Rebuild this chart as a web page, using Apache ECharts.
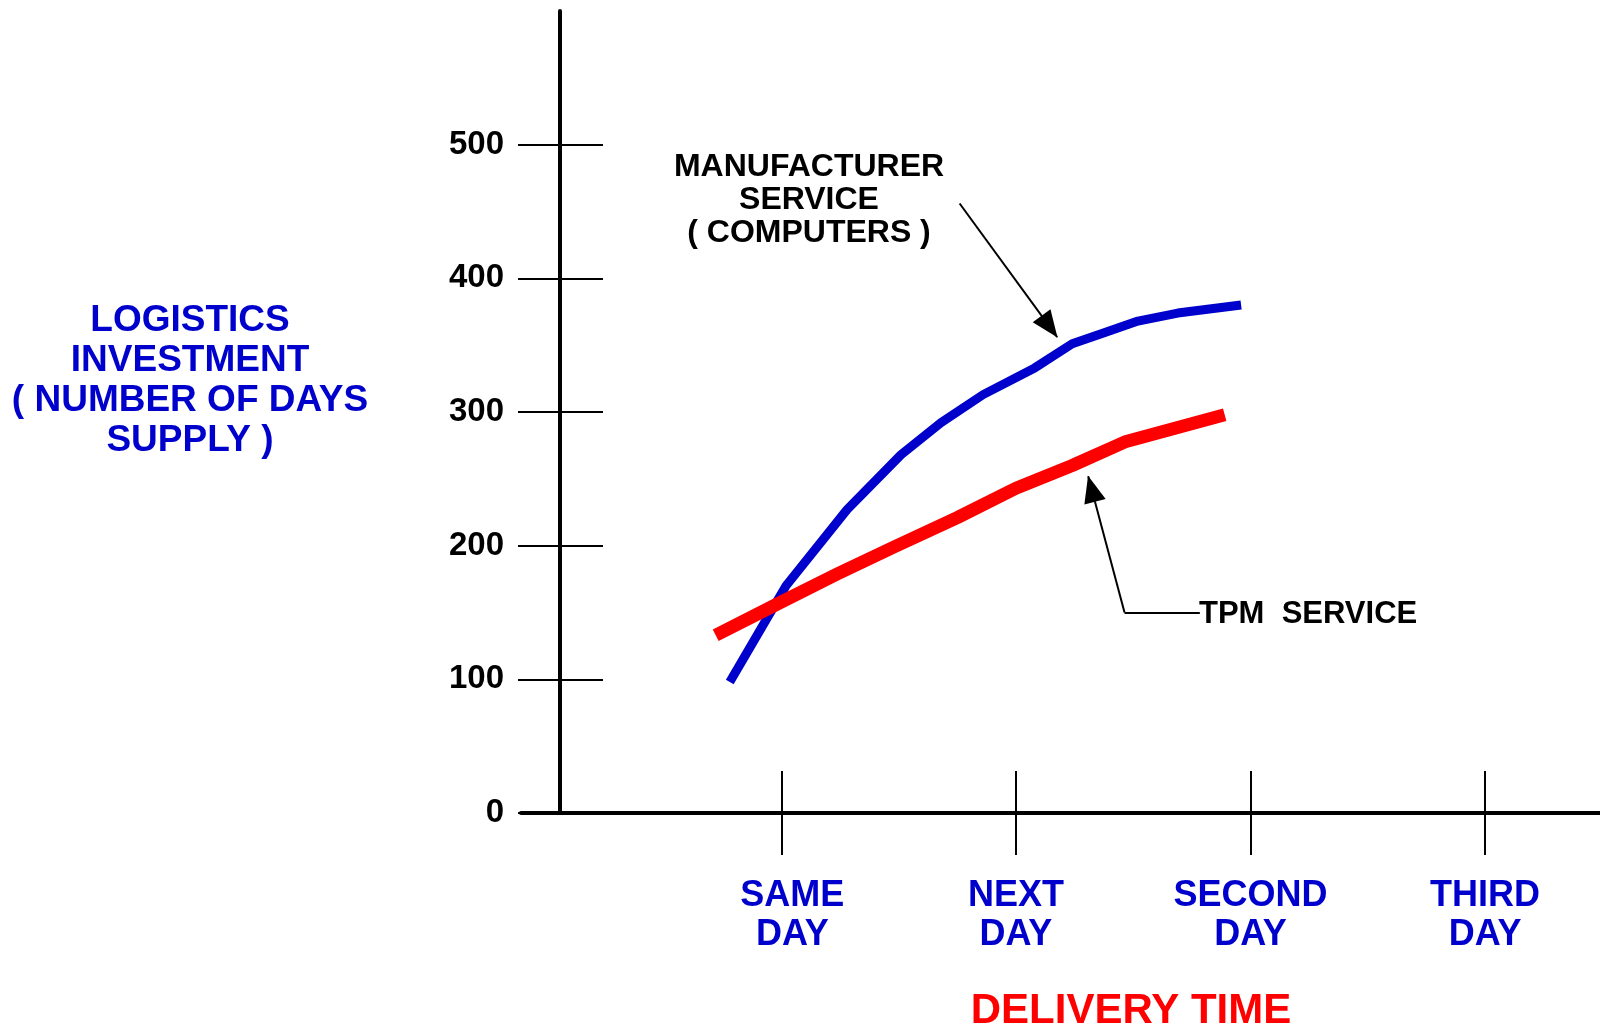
<!DOCTYPE html>
<html>
<head>
<meta charset="utf-8">
<title>Logistics Investment vs Delivery Time</title>
<script src="https://cdn.jsdelivr.net/npm/echarts@6/dist/echarts.min.js"></script>
<style>
  html, body { margin: 0; padding: 0; background: #ffffff; }
  #chart { width: 1600px; height: 1026px; }
</style>
</head>
<body>
<div id="chart"></div>
<script>
// Delivery-time positions (0 = same day, 1 = next day, ...)
const dayTicks = [0, 1, 2, 3];
const dayLabels = ['SAME\nDAY', 'NEXT\nDAY', 'SECOND\nDAY', 'THIRD\nDAY'];
const valueTicks = [0, 100, 200, 300, 400, 500];

// Manufacturer service (computers)
const manufacturerDays   = [-0.22, 0.02, 0.28, 0.51, 0.68, 0.86, 1.08, 1.24, 1.37, 1.52, 1.69, 1.96];
const manufacturerValues = [98, 170, 227, 268, 292, 313, 333, 351, 359, 368, 374, 380];

// TPM service
const tpmDays   = [-0.28, -0.01, 0.24, 0.48, 0.75, 1.00, 1.24, 1.47, 1.89];
const tpmValues = [133, 157, 179, 199, 221, 243, 260, 278, 298];

// Callout leader lines, in chart coordinates [day, value]
const manufacturerArrow = [[0.76, 456], [1.176, 356]];
const tpmArrow = [[1.463, 150], [1.308, 252]];
const tpmLeader = [[1.784, 150], [1.463, 150]];

const FONT = '"Liberation Sans", Arial, Helvetica, sans-serif';
const BLUE = '#0000CC';
const RED = '#FF0000';

const pairs = (xs, ys) => xs.map((x, i) => [x, ys[i]]);

const arrowSeg = (from, to) => [
  { coord: from, symbol: 'none' },
  { coord: to, symbol: 'triangle', symbolSize: [22, 27], symbolOffset: [0, 13] }
];
const plainSeg = (from, to) => [
  { coord: from, symbol: 'none' },
  { coord: to, symbol: 'none' }
];

const leaderStyle = {
  silent: true,
  animation: false,
  symbol: ['none', 'none'],
  label: { show: false },
  lineStyle: { color: '#000000', width: 2, type: 'solid' },
  itemStyle: { color: '#000000' },
  emphasis: { disabled: true }
};

const chart = echarts.init(document.getElementById('chart'), null, { renderer: 'canvas' });

const xBase = {
  type: 'value',
  position: 'bottom',
  min: -1.11,
  max: 3.49,
  splitLine: { show: false },
  axisLine: { onZero: false }
};
const yBase = {
  type: 'value',
  position: 'left',
  min: 0,
  max: 600,
  interval: 100,
  offset: -39,
  splitLine: { show: false },
  axisLine: { onZero: false }
};

const labelRich = { fontFamily: FONT, fontWeight: 'bold', fontSize: 36, lineHeight: 39, color: BLUE };

chart.setOption({
  animation: false,
  backgroundColor: '#ffffff',
  grid: { left: 521, right: 0, top: 11, bottom: 213, containLabel: false },
  xAxis: [
    Object.assign({}, xBase, {
      axisLine: { show: true, onZero: false, lineStyle: { color: '#000000', width: 4 } },
      axisTick: { show: true, length: 42, inside: false, customValues: dayTicks,
                  lineStyle: { color: '#000000', width: 2 } },
      axisLabel: {
        show: true,
        customValues: dayTicks,
        margin: 64,
        formatter: function (v) {
          const i = dayTicks.indexOf(v);
          if (i < 0) return '';
          const tag = i === 0 ? 'first' : 'lbl';
          return dayLabels[i].split('\n').map(s => '{' + tag + '|' + s + '}').join('\n');
        },
        rich: {
          lbl: labelRich,
          first: Object.assign({}, labelRich, { padding: [0, 0, 0, 22] })
        }
      }
    }),
    Object.assign({}, xBase, {
      axisLine: { show: false, onZero: false },
      axisTick: { show: true, length: 42, inside: true, customValues: dayTicks,
                  lineStyle: { color: '#000000', width: 2 } },
      axisLabel: { show: false }
    })
  ],
  yAxis: [
    Object.assign({}, yBase, {
      axisLine: { show: true, onZero: false, lineStyle: { color: '#000000', width: 4 } },
      axisTick: { show: true, length: 42, inside: false, customValues: valueTicks,
                  lineStyle: { color: '#000000', width: 2 } },
      axisLabel: {
        show: true,
        customValues: valueTicks,
        margin: 56,
        fontFamily: FONT,
        fontWeight: 'bold',
        fontSize: 33,
        color: '#000000'
      }
    }),
    Object.assign({}, yBase, {
      axisLine: { show: false, onZero: false },
      axisTick: { show: true, length: 43, inside: true, customValues: valueTicks,
                  lineStyle: { color: '#000000', width: 2 } },
      axisLabel: { show: false }
    })
  ],
  series: [
    {
      name: 'MANUFACTURER SERVICE ( COMPUTERS )',
      type: 'line',
      xAxisIndex: 0,
      yAxisIndex: 0,
      data: pairs(manufacturerDays, manufacturerValues),
      showSymbol: false,
      symbol: 'none',
      smooth: false,
      lineStyle: { color: BLUE, width: 9, cap: 'butt', join: 'round' },
      emphasis: { disabled: true },
      z: 2,
      markLine: Object.assign({}, leaderStyle, {
        data: [arrowSeg(manufacturerArrow[0], manufacturerArrow[1])]
      })
    },
    {
      name: 'TPM SERVICE',
      type: 'line',
      xAxisIndex: 0,
      yAxisIndex: 0,
      data: pairs(tpmDays, tpmValues),
      showSymbol: false,
      symbol: 'none',
      smooth: false,
      lineStyle: { color: RED, width: 13, cap: 'butt', join: 'round' },
      emphasis: { disabled: true },
      z: 3,
      markLine: Object.assign({}, leaderStyle, {
        data: [
          arrowSeg(tpmArrow[0], tpmArrow[1]),
          plainSeg(tpmLeader[0], tpmLeader[1])
        ]
      })
    }
  ],
  graphic: [
    {
      type: 'text',
      style: {
        text: 'LOGISTICS\nINVESTMENT\n( NUMBER OF DAYS\nSUPPLY )',
        x: 190, y: 381,
        align: 'center', verticalAlign: 'middle',
        fontFamily: FONT, fontWeight: 'bold', fontSize: 37, lineHeight: 40,
        fill: BLUE
      }
    },
    {
      type: 'text',
      style: {
        text: 'MANUFACTURER\nSERVICE\n( COMPUTERS )',
        x: 809, y: 200,
        align: 'center', verticalAlign: 'middle',
        fontFamily: FONT, fontWeight: 'bold', fontSize: 32, lineHeight: 33,
        fill: '#000000'
      }
    },
    {
      type: 'text',
      style: {
        text: 'TPM  SERVICE',
        x: 1199, y: 614,
        align: 'left', verticalAlign: 'middle',
        fontFamily: FONT, fontWeight: 'bold', fontSize: 31,
        fill: '#000000'
      }
    },
    {
      type: 'text',
      style: {
        text: 'DELIVERY TIME',
        x: 1131, y: 1011,
        align: 'center', verticalAlign: 'middle',
        fontFamily: FONT, fontWeight: 'bold', fontSize: 42,
        fill: RED
      }
    }
  ]
});
</script>
</body>
</html>
